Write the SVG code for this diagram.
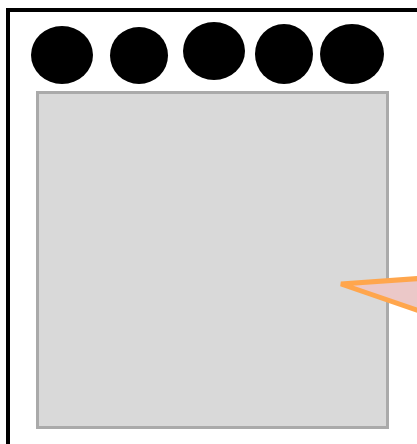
<svg xmlns="http://www.w3.org/2000/svg" width="417" height="444" viewBox="0 0 417 444">
<style>
.dot{fill:#000}
</style>
<rect x="0" y="0" width="417" height="444" fill="#fff"/>
<g id="frame"><rect x="8" y="10" width="440" height="460" fill="none" stroke="#000" stroke-width="4"/></g>
<g id="board"><rect x="37.5" y="92.5" width="350" height="335" fill="#d9d9d9" stroke="#aaaaaa" stroke-width="3"/></g>
<g id="dots">
<ellipse id="d1" class="dot" cx="62" cy="55" rx="31" ry="29"/>
<ellipse id="d2" class="dot" cx="139" cy="55.5" rx="29" ry="28.5"/>
<ellipse id="d3" class="dot" cx="214" cy="51" rx="31" ry="29"/>
<ellipse id="d4" class="dot" cx="284" cy="54" rx="29" ry="30"/>
<ellipse id="d5" class="dot" cx="352" cy="54" rx="32" ry="30"/>
</g>
<g id="pointer"><polygon points="341,284 440,277 440,318" fill="#ebc8c8" stroke="#ffa64d" stroke-width="5" stroke-linejoin="miter"/></g>
</svg>
